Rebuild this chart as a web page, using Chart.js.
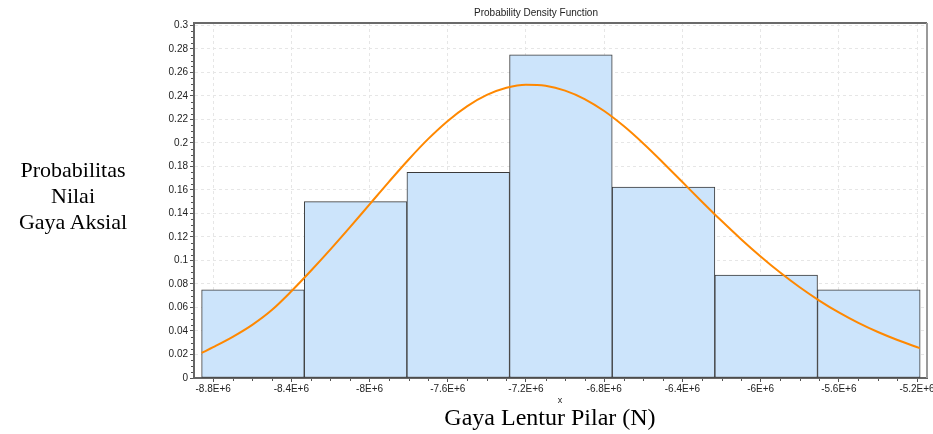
<!DOCTYPE html>
<html><head><meta charset="utf-8">
<script src="https://cdn.jsdelivr.net/npm/chart.js@4/dist/chart.umd.min.js"></script>
<style>
html,body{margin:0;padding:0;background:#fff;}
#wrap{position:relative;width:933px;height:434px;overflow:hidden;}
canvas{position:absolute;left:0;top:0;}
.lbl{position:absolute;font-family:'Liberation Serif','Times New Roman',serif;color:#000;text-align:center;white-space:nowrap;}
</style></head><body>
<div id="wrap">
<canvas id="c" width="933" height="434"></canvas>
<div class="lbl" style="left:0;top:157px;width:146px;font-size:22px;line-height:26px;">Probabilitas<br>Nilai<br>Gaya Aksial</div>
<div class="lbl" style="left:350px;top:403px;width:400px;font-size:24px;line-height:28px;">Gaya Lentur Pilar (N)</div>
</div>
<script>
// Histogram bins (centers, N) and relative frequencies
const binCenters = [-8.5965e6, -8.0715e6, -7.5465e6, -7.0215e6, -6.4965e6, -5.9715e6, -5.4465e6];
const binFreq = [0.075, 0.15, 0.175, 0.275, 0.1625, 0.0875, 0.075];

// Fitted PDF curve
const curveX = [-8.859e6, -8.8e6, -8.7e6, -8.6e6, -8.5e6, -8.4e6, -8.3e6, -8.2e6, -8.1e6, -8.0e6,
  -7.9e6, -7.8e6, -7.7e6, -7.6e6, -7.5e6, -7.4e6, -7.3e6, -7.2e6, -7.1e6, -7.0e6,
  -6.9e6, -6.8e6, -6.7e6, -6.6e6, -6.5e6, -6.4e6, -6.3e6, -6.2e6, -6.1e6, -6.0e6,
  -5.9e6, -5.8e6, -5.7e6, -5.6e6, -5.5e6, -5.4e6, -5.3e6, -5.186e6];
const curveY = [0.0213, 0.0262, 0.0350, 0.0452, 0.0578, 0.0738, 0.0912, 0.1094, 0.1283, 0.1477,
  0.1671, 0.1859, 0.2034, 0.2187, 0.2313, 0.2408, 0.2469, 0.2495, 0.2486, 0.2445,
  0.2373, 0.2271, 0.2143, 0.1995, 0.1834, 0.1667, 0.1500, 0.1337, 0.1181, 0.1034,
  0.0897, 0.0772, 0.0659, 0.0558, 0.0469, 0.0391, 0.0323, 0.0254];

const xTickValues = [-8.8e6, -8.4e6, -8.0e6, -7.6e6, -7.2e6, -6.8e6, -6.4e6, -6.0e6, -5.6e6, -5.2e6];
const xTickLabels = ['-8.8E+6', '-8.4E+6', '-8E+6', '-7.6E+6', '-7.2E+6', '-6.8E+6', '-6.4E+6', '-6E+6', '-5.6E+6', '-5.2E+6'];
const yTickValues = [0, 0.02, 0.04, 0.06, 0.08, 0.1, 0.12, 0.14, 0.16, 0.18, 0.2, 0.22, 0.24, 0.26, 0.28, 0.3];
const yTickLabels = ['0', '0.02', '0.04', '0.06', '0.08', '0.1', '0.12', '0.14', '0.16', '0.18', '0.2', '0.22', '0.24', '0.26', '0.28', '0.3'];

const chartTitle = 'Probability Density Function';
const xAxisName = 'x';

const X_MIN = -8.898e6, X_MAX = -5.149e6, Y_MIN = 0, Y_MAX = 0.302;
const tickFont = {family: "'Liberation Sans', Arial, sans-serif", size: 10};

const extras = {
  id: 'extras',
  afterDraw(chart) {
    const ctx = chart.ctx;
    const a = chart.chartArea;
    const xs = chart.scales.x, ys = chart.scales.y;
    ctx.save();
    // frame top & right
    ctx.strokeStyle = '#6a6a6a';
    ctx.lineWidth = 2;
    ctx.beginPath();
    ctx.moveTo(a.left, a.top); ctx.lineTo(a.right, a.top);
    ctx.stroke();
    ctx.strokeStyle = '#9a9a9a';
    ctx.beginPath();
    ctx.moveTo(a.right, a.top); ctx.lineTo(a.right, a.bottom);
    ctx.stroke();
    // minor ticks
    ctx.strokeStyle = '#555';
    ctx.lineWidth = 1;
    ctx.beginPath();
    for (let k = 0; k <= 60; k++) {
      if (k % 4 === 0) continue;
      const py = Math.round(ys.getPixelForValue(k * 0.005)) + 0.5;
      ctx.moveTo(a.left - 3, py); ctx.lineTo(a.left - 1, py);
    }
    for (let k = -88; k <= -52; k++) {
      if (k % 4 === 0) continue;
      const px = Math.round(xs.getPixelForValue(k * 1e5)) + 0.5;
      ctx.moveTo(px, a.bottom + 1); ctx.lineTo(px, a.bottom + 3);
    }
    ctx.stroke();
    // title and axis name
    ctx.fillStyle = '#222';
    ctx.textAlign = 'center';
    ctx.textBaseline = 'middle';
    ctx.font = "10px 'Liberation Sans', Arial, sans-serif";
    ctx.fillText(chartTitle, 536, 13);
    ctx.font = "9px 'Liberation Sans', Arial, sans-serif";
    ctx.fillText(xAxisName, 560, 401);
    ctx.restore();
  }
};

new Chart(document.getElementById('c'), {
  type: 'bar',
  data: {
    datasets: [
      {
        type: 'line',
        data: curveX.map((x, i) => ({x: x, y: curveY[i]})),
        xAxisID: 'x', yAxisID: 'y',
        borderColor: '#ff8800', borderWidth: 2,
        pointRadius: 0, fill: false,
        cubicInterpolationMode: 'monotone',
        order: 0
      },
      {
        type: 'bar',
        data: binCenters.map((x, i) => ({x: x, y: binFreq[i]})),
        xAxisID: 'xb', yAxisID: 'y',
        backgroundColor: '#cce4fb', borderColor: '#3a3a3a', borderWidth: 1,
        borderSkipped: false, barPercentage: 1, categoryPercentage: 1, grouped: false,
        order: 1
      }
    ]
  },
  options: {
    responsive: false,
    animation: false,
    devicePixelRatio: 1,
    layout: {padding: {left: 0, right: 6, top: 23, bottom: 0}},
    plugins: {legend: {display: false}, tooltip: {enabled: false}, title: {display: false}},
    scales: {
      x: {
        type: 'linear', axis: 'x', position: 'bottom', min: X_MIN, max: X_MAX, offset: false,
        afterBuildTicks: s => { s.ticks = xTickValues.map(v => ({value: v})); },
        afterFit: s => { s.height = 56; s.paddingLeft = 0; s.paddingRight = 0; },
        ticks: {autoSkip: false, maxRotation: 0, minRotation: 0, padding: 1, color: '#222', font: tickFont,
          callback: (v, i) => xTickLabels[i]},
        grid: {offset: false, color: '#e6e6e6', tickColor: '#555', tickLength: 4, tickBorderDash: []},
        border: {color: '#666', width: 2, dash: [3, 3]}
      },
      xb: {
        type: 'linear', axis: 'x', position: 'bottom', min: X_MIN, max: X_MAX, offset: false, display: false,
        afterBuildTicks: s => { s.ticks = [{value: binCenters[0]}]; },
        grid: {offset: false}
      },
      y: {
        type: 'linear', position: 'left', min: Y_MIN, max: Y_MAX,
        afterBuildTicks: s => { s.ticks = yTickValues.map(v => ({value: v})); },
        afterFit: s => { s.width = 194; s.paddingTop = 0; s.paddingBottom = 0; },
        ticks: {autoSkip: false, padding: 2, color: '#222', font: tickFont,
          callback: (v, i) => yTickLabels[i]},
        grid: {color: '#e6e6e6', tickColor: '#555', tickLength: 4, tickBorderDash: []},
        border: {color: '#666', width: 2, dash: [3, 3]}
      }
    }
  },
  plugins: [extras]
});
</script>
</body></html>
